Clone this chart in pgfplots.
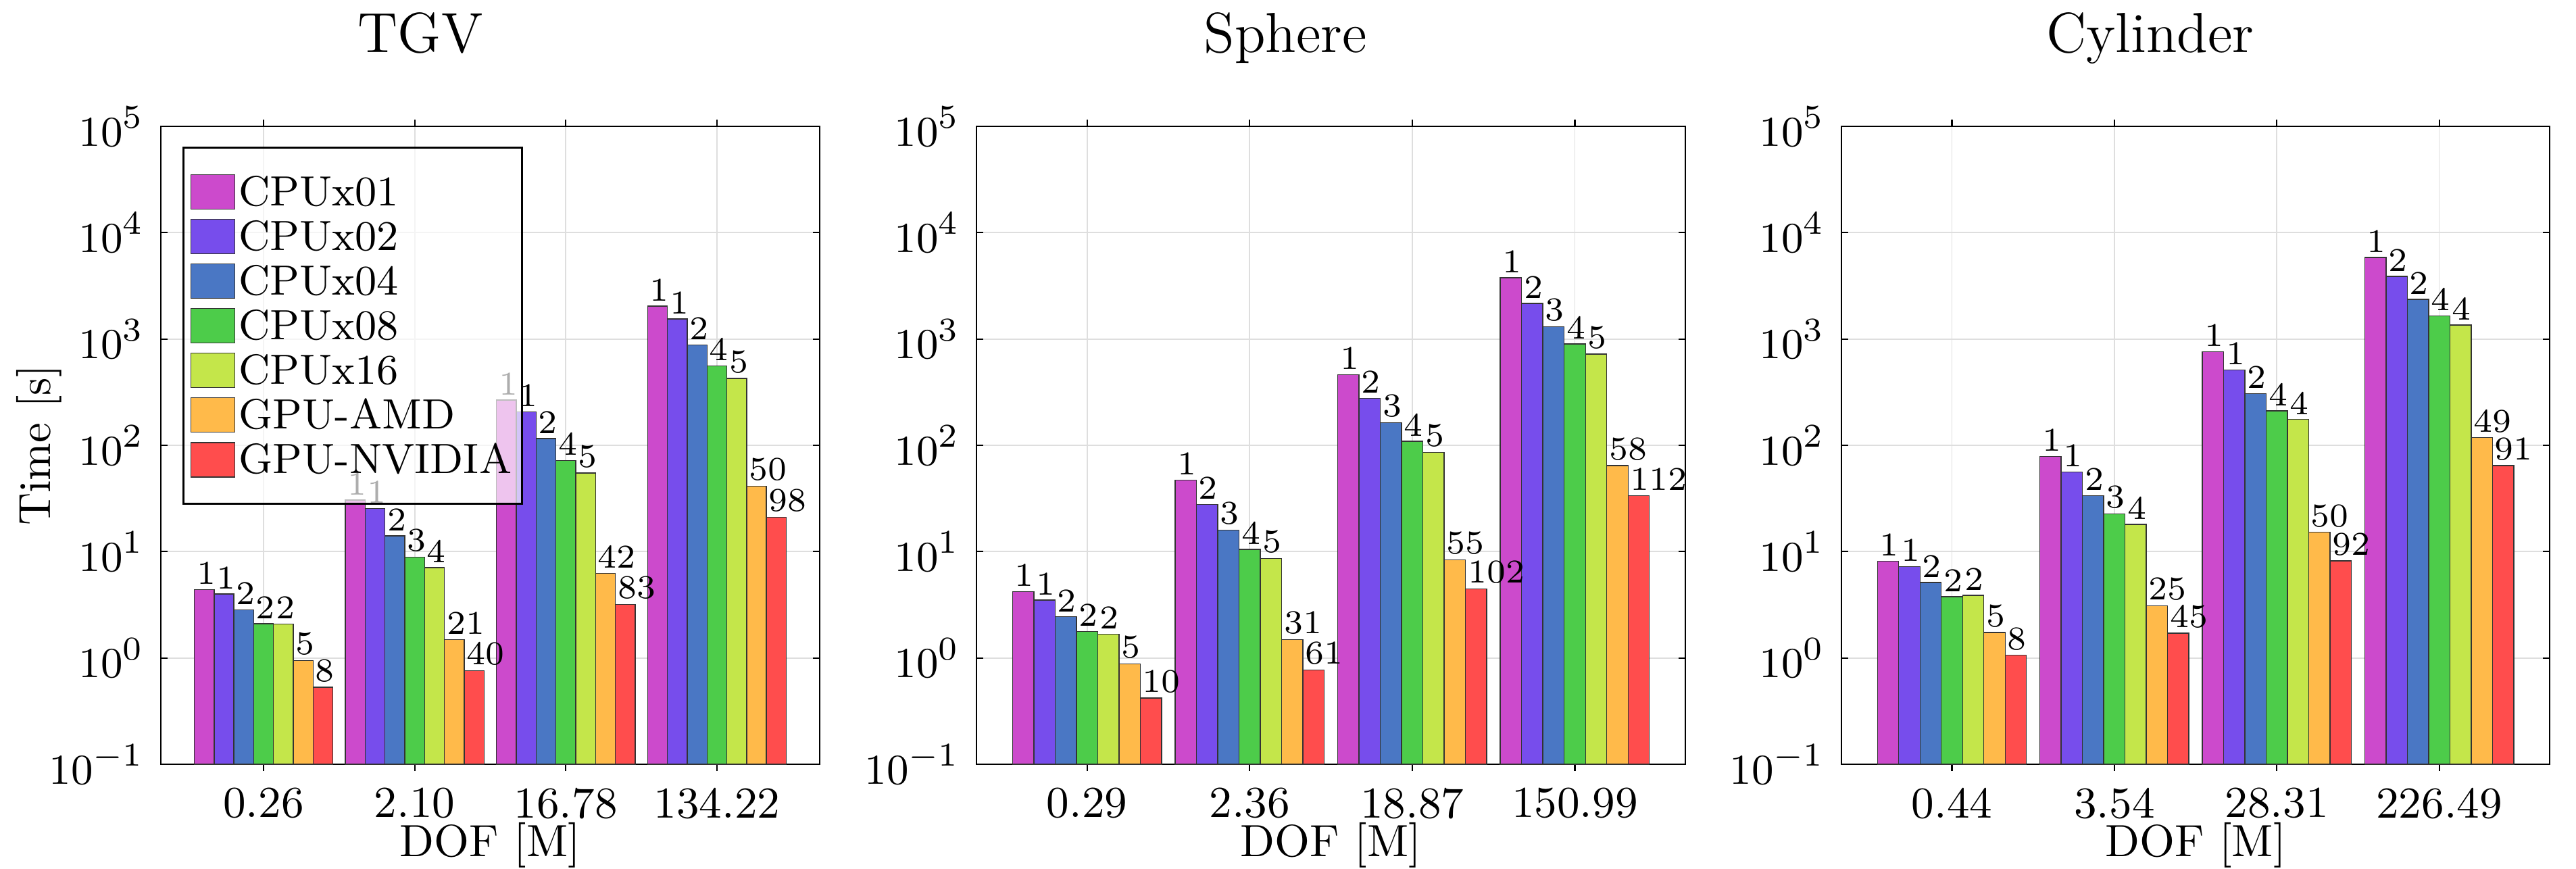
\documentclass[border=0pt]{standalone}
\usepackage{fontspec}
\usepackage{pgfplots}
\pgfplotsset{compat=1.18}

\definecolor{cA}{RGB}{204,74,204}
\definecolor{cB}{RGB}{119,77,236}
\definecolor{cC}{RGB}{74,119,196}
\definecolor{cD}{RGB}{77,204,74}
\definecolor{cE}{RGB}{196,230,74}
\definecolor{cF}{RGB}{255,186,74}
\definecolor{cG}{RGB}{255,77,77}

\pgfplotscreateplotcyclelist{mybars}{
  {fill=cA,draw=black!80},{fill=cB,draw=black!80},{fill=cC,draw=black!80},
  {fill=cD,draw=black!80},{fill=cE,draw=black!80},{fill=cF,draw=black!80},
  {fill=cG,draw=black!80}}

\pgfplotsset{
  scale only axis,
  height=4.72cm,
  ymin=0.1, ymax=1e5,
  ytick={0.1,1,10,100,1000,10000,100000},
  log origin=infty,
  xmin=0.32, xmax=4.68,
  xtick={1,2,3,4},
  xmajorgrids, ymajorgrids,
  grid style={line width=0.25pt, black!13},
  minor y tick style={draw=none},
  major tick length=1.42pt,
  tick style={black, line width=0.3pt},
  axis line style={line width=0.36pt},
  tick label style={font=\fontsize{9.3}{11}\selectfont},
  title style={font=\fontsize{11.9}{14}\selectfont, anchor=base},
  label style={font=\fontsize{9.5}{11}\selectfont},
  xlabel style={at={(axis description cs:0.5,-0.145)}, anchor=base},
  every node near coord/.append style={font=\fontsize{7}{8}\selectfont,
    anchor=south west, inner xsep=0.4pt, inner ysep=1pt, text=black},
  every axis plot/.append style={line width=0.2pt},
}

\begin{document}
\begin{tikzpicture}
\useasboundingbox (0,0) rectangle (19.06,6.425);

% TGV
\begin{semilogyaxis}[
  anchor=south west, at={(1.19cm,0.77cm)}, width=4.875cm,
  ybar=0pt, bar width=0.131, cycle list name=mybars,
  nodes near coords, point meta=explicit symbolic,
  title={TGV},
  title style={at={(axis description cs:0.394,1.0718)}},
  xlabel={DOF [M]},
  ylabel={Time [s]},
  ylabel style={at={(axis description cs:-0.168,0.5)}, anchor=base},
  xticklabels={0.26,2.10,16.78,134.22},
  every node near coord/.append style={xshift=-2.09pt},
  legend cell align=left,
  legend image code/.code={\draw[#1, fill opacity=1] (0pt,-3.63pt) rectangle (9.25pt,3.63pt);},
  legend style={at={(0.0328,0.968)}, anchor=north west, draw=black, line width=0.36pt,
    fill=white, fill opacity=0.68, text opacity=1, inner xsep=1.5pt, inner ysep=4.6pt,
    font=\fontsize{8.9}{10}\selectfont,
    nodes={inner xsep=0.7pt, inner ysep=0.2pt, text height=7.4pt, text depth=1.6pt}},
]
\addplot coordinates {(1,4.39) [1] (2,30.5) [1] (3,267) [1] (4,2040) [1]};
\addplot coordinates {(1,3.99) [1] (2,25.4) [1] (3,207) [1] (4,1540) [1]};
\addplot coordinates {(1,2.83) [2] (2,14.1) [2] (3,116) [2] (4,881) [2]};
\addplot coordinates {(1,2.10) [2] (2,8.9) [3] (3,72) [4] (4,557) [4]};
\addplot coordinates {(1,2.08) [2] (2,7.06) [4] (3,55) [5] (4,425) [5]};
\addplot coordinates {(1,0.95) [5] (2,1.49) [21] (3,6.25) [42] (4,41.2) [50]};
\addplot coordinates {(1,0.53) [8] (2,0.76) [40] (3,3.19) [83] (4,21.0) [98]};
\legend{CPUx01,CPUx02,CPUx04,CPUx08,CPUx16,GPU-AMD,GPU-NVIDIA}
\end{semilogyaxis}

% Sphere
\begin{semilogyaxis}[
  anchor=south west, at={(7.225cm,0.77cm)}, width=5.245cm,
  ybar=0pt, bar width=0.131, cycle list name=mybars,
  nodes near coords, point meta=explicit symbolic,
  title={Sphere},
  title style={at={(axis description cs:0.436,1.0718)}},
  xlabel={DOF [M]},
  xticklabels={0.29,2.36,18.87,150.99},
  every node near coord/.append style={xshift=-2.24pt},
]
\addplot coordinates {(1,4.22) [1] (2,47) [1] (3,462) [1] (4,3776) [1]};
\addplot coordinates {(1,3.50) [1] (2,27.9) [2] (3,277) [2] (4,2157) [2]};
\addplot coordinates {(1,2.44) [2] (2,16.0) [3] (3,163) [3] (4,1303) [3]};
\addplot coordinates {(1,1.77) [2] (2,10.5) [4] (3,109) [4] (4,897) [4]};
\addplot coordinates {(1,1.68) [2] (2,8.6) [5] (3,86) [5] (4,723) [5]};
\addplot coordinates {(1,0.88) [5] (2,1.49) [31] (3,8.35) [55] (4,64.5) [58]};
\addplot coordinates {(1,0.42) [10] (2,0.77) [61] (3,4.47) [102] (4,33.6) [112]};
\end{semilogyaxis}

% Cylinder
\begin{semilogyaxis}[
  anchor=south west, at={(13.625cm,0.77cm)}, width=5.24cm,
  ybar=0pt, bar width=0.131, cycle list name=mybars,
  nodes near coords, point meta=explicit symbolic,
  title={Cylinder},
  title style={at={(axis description cs:0.436,1.0718)}},
  xlabel={DOF [M]},
  xticklabels={0.44,3.54,28.31,226.49},
  every node near coord/.append style={xshift=-2.24pt},
]
\addplot coordinates {(1,8.12) [1] (2,78.5) [1] (3,759) [1] (4,5856) [1]};
\addplot coordinates {(1,7.26) [1] (2,56.1) [1] (3,512) [1] (4,3882) [2]};
\addplot coordinates {(1,5.14) [2] (2,33.6) [2] (3,306) [2] (4,2367) [2]};
\addplot coordinates {(1,3.78) [2] (2,22.7) [3] (3,211) [4] (4,1644) [4]};
\addplot coordinates {(1,3.88) [2] (2,18.1) [4] (3,175) [4] (4,1353) [4]};
\addplot coordinates {(1,1.74) [5] (2,3.10) [25] (3,15.2) [50] (4,118) [49]};
\addplot coordinates {(1,1.06) [8] (2,1.71) [45] (3,8.2) [92] (4,64.5) [91]};
\end{semilogyaxis}
\end{tikzpicture}
\end{document}
